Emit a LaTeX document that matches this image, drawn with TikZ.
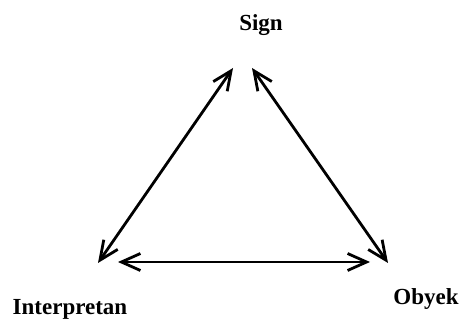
\documentclass[tikz,border=0pt]{standalone}
\usepackage{fontspec}
\setmainfont{Liberation Serif}
\usetikzlibrary{arrows.meta}
\begin{document}
\begin{tikzpicture}[x=1pt,y=-1pt,
  lbl/.style={font=\bfseries\fontsize{23}{26}\selectfont, inner sep=0pt, anchor=base},
  tip/.style={Straight Barb[length=19pt,width=17pt,line width=2.8pt]},
  link/.style={line width=2.8pt, {Straight Barb[length=19pt,width=17pt,line width=2.8pt]}-{Straight Barb[length=19pt,width=17pt,line width=2.8pt]}}]
\useasboundingbox (0,0) rectangle (464,323);
\node[lbl] (sign) at (261,31) {Sign};
\node[lbl] (interp) at (70,315) {Interpretan};
\node[lbl] (obyek) at (426,305) {Obyek};
\coordinate (sl) at (233,68);
\coordinate (sr) at (252,68);
\coordinate (il) at (98,263);
\coordinate (ir) at (118,262);
\coordinate (ol) at (370,262);
\coordinate (or) at (388,263);
\draw[link] (sl) -- (il);
\draw[link] (sr) -- (or);
\draw[link] (ir) -- (ol);
\end{tikzpicture}
\end{document}
